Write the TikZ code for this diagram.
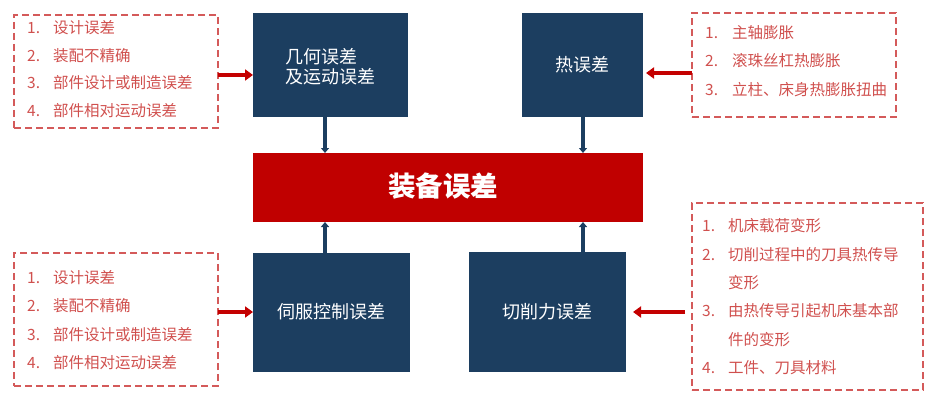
\documentclass[tikz,border=0pt]{standalone}
\usepackage{fontspec}
\usetikzlibrary{arrows.meta}
\newfontfamily\cjk{Noto Sans CJK SC}
\definecolor{navy}{RGB}{28,62,96}
\definecolor{barred}{RGB}{192,0,0}
\definecolor{itemred}{RGB}{208,80,78}
\definecolor{dashred}{RGB}{212,90,90}
\definecolor{arrowred}{RGB}{196,0,0}
\tikzset{
  navybox/.style={fill=navy, draw=none, inner sep=0pt, outer sep=0pt, text=white,
    font=\cjk\fontsize{18}{20}\selectfont},
  dashbox/.style={draw=dashred, line width=1.4pt, dash pattern=on 7pt off 4pt,
    inner sep=0pt, outer sep=0pt},
  item/.style={anchor=west, inner sep=0pt, text=itemred,
    font=\cjk\fontsize{15.5}{18}\selectfont, text height=0.83em, text depth=0.07em},
  redarrow/.style={draw=arrowred, line width=4pt, -{Triangle[length=8pt,width=11pt]}},
  navyarrow/.style={draw=navy, line width=3.5pt, -{Triangle[length=5pt,width=8pt]}},
}
\begin{document}
\begin{tikzpicture}[x=1pt,y=-1pt]
\useasboundingbox (0,0) rectangle (933,401);
% navy boxes
\node[navybox, minimum width=155pt, minimum height=104pt] (geo) at (330.5,65) {};
\node[navybox, align=left] (geot) at (330,67) {几何误差\\及运动误差};
\node[navybox, minimum width=121pt, minimum height=104pt] (heat) at (582.5,65) {热误差};
\node[navybox, minimum width=157pt, minimum height=119pt] (servo) at (331.5,312) {伺服控制误差};
\node[navybox, minimum width=157pt, minimum height=120pt] (cut) at (547.5,312) {切削力误差};
% red bar
\node[fill=barred, inner sep=0pt, outer sep=0pt, minimum width=390pt, minimum height=69pt] (bar) at (448,187.5) {};
\node[inner sep=0pt, text=white, font=\cjk\bfseries\fontsize{27.5}{30}\selectfont] (bart) at (443,186) {装备误差};
% dashed boxes
\node[dashbox, minimum width=204pt, minimum height=113pt] (tl) at (116,71.5) {};
\node[dashbox, minimum width=204pt, minimum height=104pt] (tr) at (794,65) {};
\node[dashbox, minimum width=204pt, minimum height=133pt] (bl) at (116,319.5) {};
\node[dashbox, minimum width=231pt, minimum height=187pt] (br) at (807.5,296.5) {};
% top-left items
\node[item] (tl1n) at (27,30) {1.};  \node[item] (tl1) at (53,30) {设计误差};
\node[item] (tl2n) at (27,58) {2.};  \node[item] (tl2) at (53,58) {装配不精确};
\node[item] (tl3n) at (27,85) {3.};  \node[item] (tl3) at (53,85) {部件设计或制造误差};
\node[item] (tl4n) at (27,113) {4.}; \node[item] (tl4) at (53,113) {部件相对运动误差};
% top-right items
\node[item] (tr1n) at (705,35) {1.}; \node[item] (tr1) at (732,35) {主轴膨胀};
\node[item] (tr2n) at (705,63) {2.}; \node[item] (tr2) at (732,63) {滚珠丝杠热膨胀};
\node[item] (tr3n) at (705,92) {3.}; \node[item] (tr3) at (732,92) {立柱、床身热膨胀扭曲};
% bottom-left items
\node[item] (bl1n) at (27,280) {1.}; \node[item] (bl1) at (53,280) {设计误差};
\node[item] (bl2n) at (27,308) {2.}; \node[item] (bl2) at (53,308) {装配不精确};
\node[item] (bl3n) at (27,337) {3.}; \node[item] (bl3) at (53,337) {部件设计或制造误差};
\node[item] (bl4n) at (27,365) {4.}; \node[item] (bl4) at (53,365) {部件相对运动误差};
% bottom-right items
\node[item] (br1n) at (702,228) {1.}; \node[item] (br1) at (728,228) {机床载荷变形};
\node[item] (br2n) at (702,257) {2.}; \node[item] (br2) at (728,257) {切削过程中的刀具热传导};
\node[item] (br2b) at (728,285) {变形};
\node[item] (br3n) at (702,313) {3.}; \node[item] (br3) at (728,313) {由热传导引起机床基本部};
\node[item] (br3b) at (728,342) {件的变形};
\node[item] (br4n) at (702,370) {4.}; \node[item] (br4) at (728,370) {工件、刀具材料};
% helper coordinates
\coordinate (xl) at (325,0);
\coordinate (xr) at (583,0);
\coordinate (ya) at (0,75);
\coordinate (yb) at (0,73);
\coordinate (yc) at (0,312);
% navy arrows
\draw[navyarrow] (geo.south -| xl) -- (bar.north -| xl);
\draw[navyarrow] (heat.south -| xr) -- (bar.north -| xr);
\draw[navyarrow] (servo.north -| xl) -- (bar.south -| xl);
\draw[navyarrow] (cut.north -| xr) -- (bar.south -| xr);
% red arrows
\draw[redarrow] (tl.east |- ya) -- (geo.west |- ya);
\draw[redarrow, shorten >=3pt] (tr.west |- yb) -- (heat.east |- yb);
\draw[redarrow] (bl.east |- yc) -- (servo.west |- yc);
\draw[redarrow, shorten <=7pt, shorten >=7pt] (br.west |- yc) -- (cut.east |- yc);
\end{tikzpicture}
\end{document}
